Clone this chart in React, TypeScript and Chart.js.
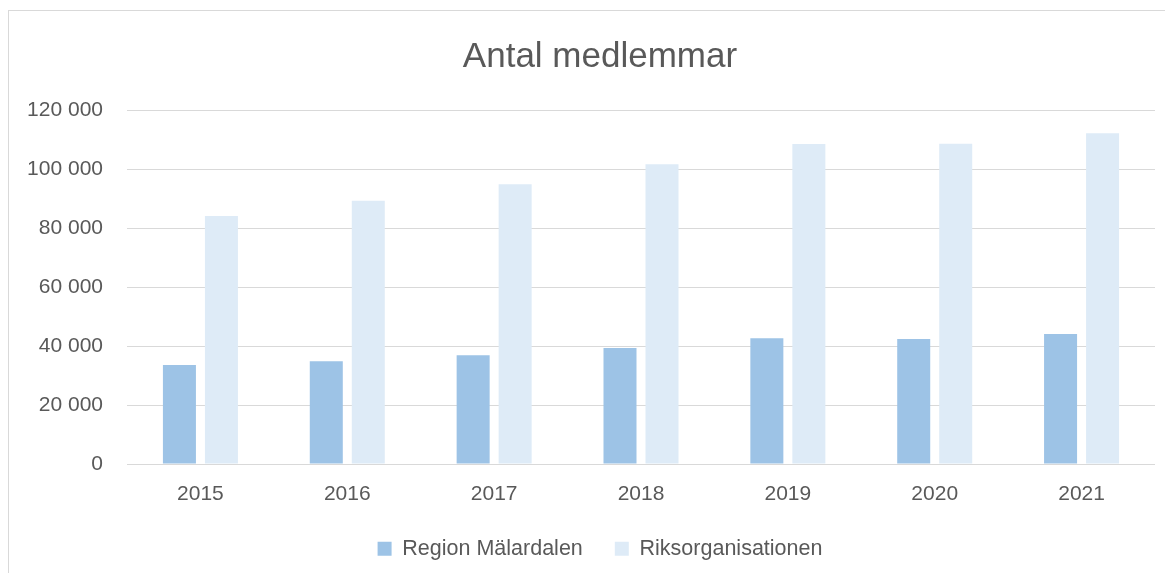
import React, { useEffect, useRef } from "react";
import { Chart, registerables } from "chart.js";

Chart.register(...registerables);

const categories = ["2015", "2016", "2017", "2018", "2019", "2020", "2021"];
const regionMalardalen = [33600, 34800, 36900, 39300, 42600, 42400, 44100];
const riksorganisationen = [84100, 89200, 94800, 101600, 108500, 108600, 112100];
const seriesNames = ["Region Mälardalen", "Riksorganisationen"];
const chartTitle = "Antal medlemmar";
const yMin = 0;
const yMax = 120000;
const yStep = 20000;

const FONT = "'Liberation Sans', Arial, sans-serif";
const TEXT = "#595959";

function fmt(v: number): string {
  return Math.round(v).toString().replace(/\B(?=(\d{3})+(?!\d))/g, " ");
}

export default function App() {
  const ref = useRef<HTMLCanvasElement | null>(null);

  useEffect(() => {
    if (!ref.current) return;
    const chart = new Chart(ref.current, {
      type: "bar",
      data: {
        labels: categories,
        datasets: [
          {
            label: seriesNames[0],
            data: regionMalardalen,
            backgroundColor: "#9DC3E6",
            borderWidth: 0,
            categoryPercentage: 0.572,
            barPercentage: 0.786,
            yAxisID: "y",
          },
          {
            label: seriesNames[1],
            data: riksorganisationen,
            backgroundColor: "#DEEBF7",
            borderWidth: 0,
            categoryPercentage: 0.572,
            barPercentage: 0.786,
            yAxisID: "y",
          },
        ],
      },
      options: {
        responsive: false,
        animation: false,
        layout: { padding: { left: 0, right: 0, top: 0, bottom: 3.5 } },
        plugins: {
          title: {
            display: true,
            text: chartTitle,
            color: TEXT,
            font: { family: FONT, size: 35, weight: "normal" },
            padding: { top: 28, bottom: 32 },
          },
          legend: {
            display: true,
            position: "bottom",
            labels: {
              color: TEXT,
              font: { family: FONT, size: 21.5 },
              boxWidth: 14,
              boxHeight: 14,
              padding: 32,
            },
          },
          tooltip: { enabled: false },
        },
        scales: {
          x: {
            grid: { display: false, drawTicks: false },
            border: { display: false },
            ticks: {
              color: TEXT,
              font: { family: FONT, size: 21 },
              padding: 17.4,
              maxRotation: 0,
            },
            afterFit: (s: any) => {
              s.height = 42;
            },
          },
          y: {
            position: "left",
            min: yMin,
            max: yMax,
            grid: { color: "#D9D9D9", lineWidth: 1, drawTicks: false },
            border: { display: false },
            ticks: {
              stepSize: yStep,
              color: TEXT,
              font: { family: FONT, size: 21 },
              padding: 24,
              callback: (v: any) => fmt(Number(v)),
            },
            afterFit: (s: any) => {
              s.width = 119;
            },
          },
          yRight: {
            position: "right",
            display: true,
            grid: { display: false, drawTicks: false },
            border: { display: false },
            ticks: { display: false },
            afterFit: (s: any) => {
              s.width = 37;
            },
          },
        },
      },
    });
    return () => chart.destroy();
  }, []);

  return (
    <div
      style={{
        position: "relative",
        width: 1165,
        height: 565,
        overflow: "hidden",
      }}
    >
      <div
        style={{
          position: "absolute",
          top: 2,
          left: 0,
          right: -10,
          bottom: -10,
          borderTop: "1px solid #D9D9D9",
          borderLeft: "1px solid #D9D9D9",
        }}
      />
      <canvas
        ref={ref}
        width={1184}
        height={565}
        style={{ position: "absolute", top: 0, left: 0 }}
      />
    </div>
  );
}
